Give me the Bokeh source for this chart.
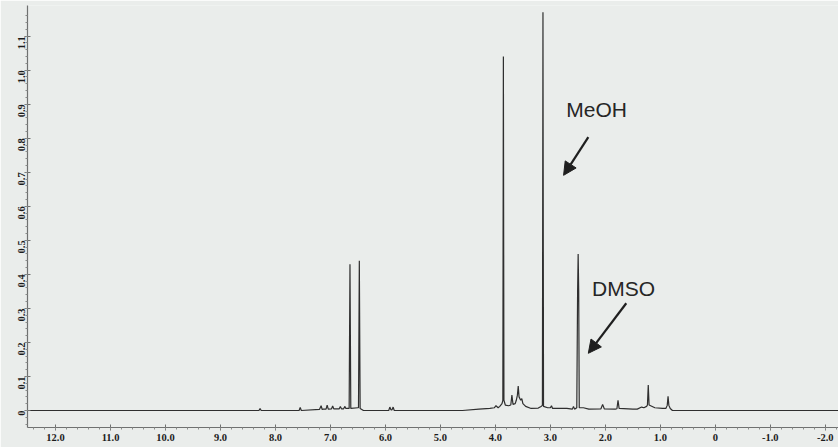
import numpy as np
from bokeh.plotting import figure
from bokeh.models import Range1d, FixedTicker, Label, Arrow, NormalHead, ColumnDataSource
from bokeh.embed import file_html
from bokeh.resources import INLINE

# --- data (chemical shift in ppm, relative intensity) ---
shift_ppm = [12.5, 8.30, 8.28, 8.26, 7.57, 7.55, 7.53, 7.20, 7.17, 7.15, 7.13, 7.08, 7.06, 7.04,
             6.98, 6.96, 6.94, 6.84, 6.82, 6.80, 6.76, 6.74, 6.72, 6.66, 6.645, 6.63, 6.50, 6.49,
             6.475, 6.46, 6.40, 5.94, 5.92, 5.90, 5.88, 5.86, 5.84, 4.6, 4.3, 4.1, 4.02, 3.99,
             3.95, 3.92, 3.88, 3.865, 3.855, 3.845, 3.82, 3.76, 3.72, 3.70, 3.68, 3.64, 3.62,
             3.60, 3.585, 3.57, 3.54, 3.52, 3.50, 3.45, 3.35, 3.22, 3.17, 3.145, 3.135, 3.125,
             3.05, 3.00, 2.98, 2.96, 2.70, 2.60, 2.58, 2.56, 2.52, 2.505, 2.495, 2.485, 2.475,
             2.40, 2.30, 2.08, 2.05, 2.02, 1.82, 1.79, 1.77, 1.75, 1.50, 1.42, 1.34, 1.30, 1.25,
             1.235, 1.22, 1.205, 1.10, 0.96, 0.90, 0.875, 0.86, 0.845, 0.82, 0.78, -2.3]
intensity = [0.0, 0.0, 0.006, 0.0, 0.0, 0.009, 0.0, 0.003, 0.014, 0.003, 0.004, 0.004, 0.016, 0.004,
             0.005, 0.013, 0.005, 0.005, 0.012, 0.005, 0.005, 0.012, 0.006, 0.006, 0.43, 0.006, 0.008,
             0.008, 0.44, 0.006, 0.0, 0.0, 0.01, 0.002, 0.002, 0.01, 0.0, 0.0, 0.004, 0.006, 0.008,
             0.014, 0.008, 0.012, 0.02, 0.03, 1.04, 0.03, 0.016, 0.014, 0.016, 0.045, 0.018, 0.02,
             0.03, 0.045, 0.072, 0.04, 0.03, 0.035, 0.02, 0.012, 0.006, 0.007, 0.012, 0.015, 1.17,
             0.012, 0.008, 0.008, 0.014, 0.006, 0.006, 0.004, 0.012, 0.004, 0.008, 0.35, 0.46, 0.35,
             0.008, 0.008, 0.004, 0.005, 0.018, 0.005, 0.004, 0.005, 0.03, 0.006, 0.004, 0.004, 0.01,
             0.008, 0.012, 0.016, 0.075, 0.016, 0.008, 0.006, 0.006, 0.015, 0.042, 0.015, 0.006,
             0.0, 0.0]

x_ticks = [12.0, 11.0, 10.0, 9.0, 8.0, 7.0, 6.0, 5.0, 4.0, 3.0, 2.0, 1.0, 0.0, -1.0, -2.0]
x_tick_labels = ["12.0", "11.0", "10.0", "9.0", "8.0", "7.0", "6.0", "5.0", "4.0", "3.0",
                 "2.0", "1.0", "0", "-1.0", "-2.0"]
y_ticks = [0.0, 0.1, 0.2, 0.3, 0.4, 0.5, 0.6, 0.7, 0.8, 0.9, 1.0, 1.1]
y_tick_labels = ["0", "0.1", "0.2", "0.3", "0.4", "0.5", "0.6", "0.7", "0.8", "0.9", "1.0", "1.1"]

annotations = ["MeOH", "DMSO"]

BG = "#eaedeb"
INK = "#2f2f2f"

p = figure(width=838, height=447, output_backend="svg", toolbar_location=None,
           x_range=Range1d(12.51, -2.24), y_range=Range1d(-0.05, 1.19),
           min_border_left=27, min_border_right=0, min_border_top=5, min_border_bottom=20,
           background_fill_color=BG, border_fill_color=BG, outline_line_color=None)
p.grid.visible = False

src = ColumnDataSource(dict(x=shift_ppm, y=intensity))
p.line("x", "y", source=src, line_color=INK, line_width=1.2)

# axes
minor_x = [round(v, 2) for v in np.arange(-2.2, 12.5, 0.2)]
minor_y = [round(v, 3) for v in np.arange(-0.04, 1.17, 0.02)]
p.xaxis.ticker = FixedTicker(ticks=x_ticks, minor_ticks=minor_x)
p.yaxis.ticker = FixedTicker(ticks=y_ticks, minor_ticks=minor_y)
p.xaxis.major_label_overrides = {t: l for t, l in zip(x_ticks, x_tick_labels)}
p.yaxis.major_label_overrides = {t: l for t, l in zip(y_ticks, y_tick_labels)}
p.yaxis.major_label_orientation = np.pi / 2

for ax in (p.xaxis[0], p.yaxis[0]):
    ax.axis_line_color = "#6f7170"
    ax.axis_line_width = 1.2
    ax.major_tick_line_color = "#6f7170"
    ax.minor_tick_line_color = "#8a8c8b"
    ax.major_tick_in = 3
    ax.major_tick_out = 3
    ax.minor_tick_in = 0
    ax.minor_tick_out = 2
    ax.major_label_text_font = "Liberation Serif"
    ax.major_label_text_font_style = "bold"
    ax.major_label_text_font_size = "10.5px"
    ax.major_label_text_color = "#1c1c1c"
    ax.major_label_standoff = 3

# annotations
lab1 = Label(x=2.16, y=0.885, text=annotations[0], text_align="center", text_baseline="middle",
             text_font="Liberation Sans", text_font_size="21px", text_color="#262626")
lab2 = Label(x=1.67, y=0.359, text=annotations[1], text_align="center", text_baseline="middle",
             text_font="Liberation Sans", text_font_size="21px", text_color="#262626")
p.add_layout(lab1)
p.add_layout(lab2)

for (xs, ys, xe, ye) in [(2.31, 0.803, 2.76, 0.691), (1.62, 0.315, 2.31, 0.168)]:
    p.add_layout(Arrow(end=NormalHead(size=13, fill_color="#1f1f1f", line_color="#1f1f1f"),
                       x_start=xs, y_start=ys, x_end=xe, y_end=ye,
                       line_color="#1f1f1f", line_width=2.2))

open("out.html", "w").write(file_html(p, INLINE))
